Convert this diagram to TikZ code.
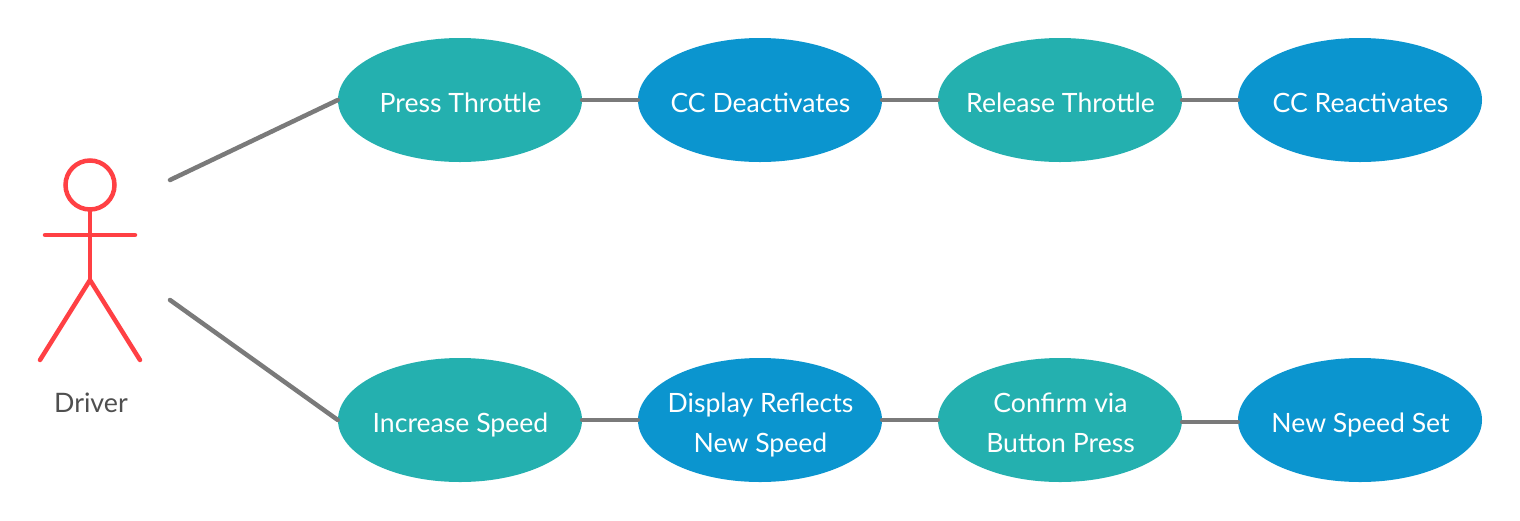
\documentclass[tikz,border=0pt]{standalone}
\usepackage{fontspec}
\setmainfont{Lato}
\usetikzlibrary{shapes.geometric}
\definecolor{teal1}{HTML}{24B0AF}
\definecolor{blue1}{HTML}{0B95CF}
\definecolor{line1}{HTML}{7A7A7A}
\definecolor{red1}{HTML}{FF4044}
\definecolor{txt1}{HTML}{4F4F4F}
\newcommand{\uct}[1]{\makebox[0pt]{\hspace*{1pt}\smash{\raisebox{-11pt}{\fontsize{26.6}{40}\selectfont\begin{tabular}[c]{@{}c@{}}#1\end{tabular}}}}}
\tikzset{x=1pt,y=-1pt,
 uc/.style={ellipse,minimum width=244pt,minimum height=124pt,inner sep=0pt,text=white},
 ta/.style={uc,fill=teal1},
 tb/.style={uc,fill=blue1},
 conn/.style={draw=line1,line width=4.5pt,line cap=round},
 stick/.style={draw=red1,line width=4.5pt,line cap=round}}
\begin{document}
\begin{tikzpicture}
\useasboundingbox (0,0) rectangle (1520,520);
\node[ta] (a1) at (460,100) {\uct{Press Throttle}};
\node[tb] (a2) at (760,100) {\uct{CC Deactivates}};
\node[ta] (a3) at (1060,100) {\uct{Release Throttle}};
\node[tb] (a4) at (1360,100) {\uct{CC Reactivates}};
\node[ta] (b1) at (460,420) {\uct{Increase Speed}};
\node[tb] (b2) at (760,420) {\uct{Display Reflects\\New Speed}};
\node[ta] (b3) at (1060,420) {\uct{Confirm via\\Button Press}};
\node[tb] (b4) at (1360,420) {\uct{New Speed Set}};
\draw[conn] (a1.east)--(a2.west);
\draw[conn] (a2.east)--(a3.west);
\draw[conn] (a3.east)--(a4.west);
\draw[conn] (b1.east)--(b2.west);
\draw[conn] (b2.east)--(b3.west);
\draw[conn] ([yshift=-2pt]b3.east)--([yshift=-2pt]b4.west);
\coordinate (d1) at (170,180);
\coordinate (d2) at (170,300);
\draw[conn] (d1)--(a1.west);
\draw[conn] (d2)--(b1.west);
\node[circle,draw=red1,line width=4.5pt,minimum size=49pt,inner sep=0pt] (head) at (90,185) {};
\coordinate (hip) at (90,280);
\coordinate (al) at (45,235);
\coordinate (ar) at (135,235);
\coordinate (fl) at (40,360);
\coordinate (fr) at (140,360);
\draw[stick] (head.south)--(hip);
\draw[stick] (al)--(ar);
\draw[stick] (fl)--(hip)--(fr);
\node[text=txt1,font=\fontsize{26.8}{32}\selectfont] (drv) at (91,403) {Driver};
\end{tikzpicture}
\end{document}
